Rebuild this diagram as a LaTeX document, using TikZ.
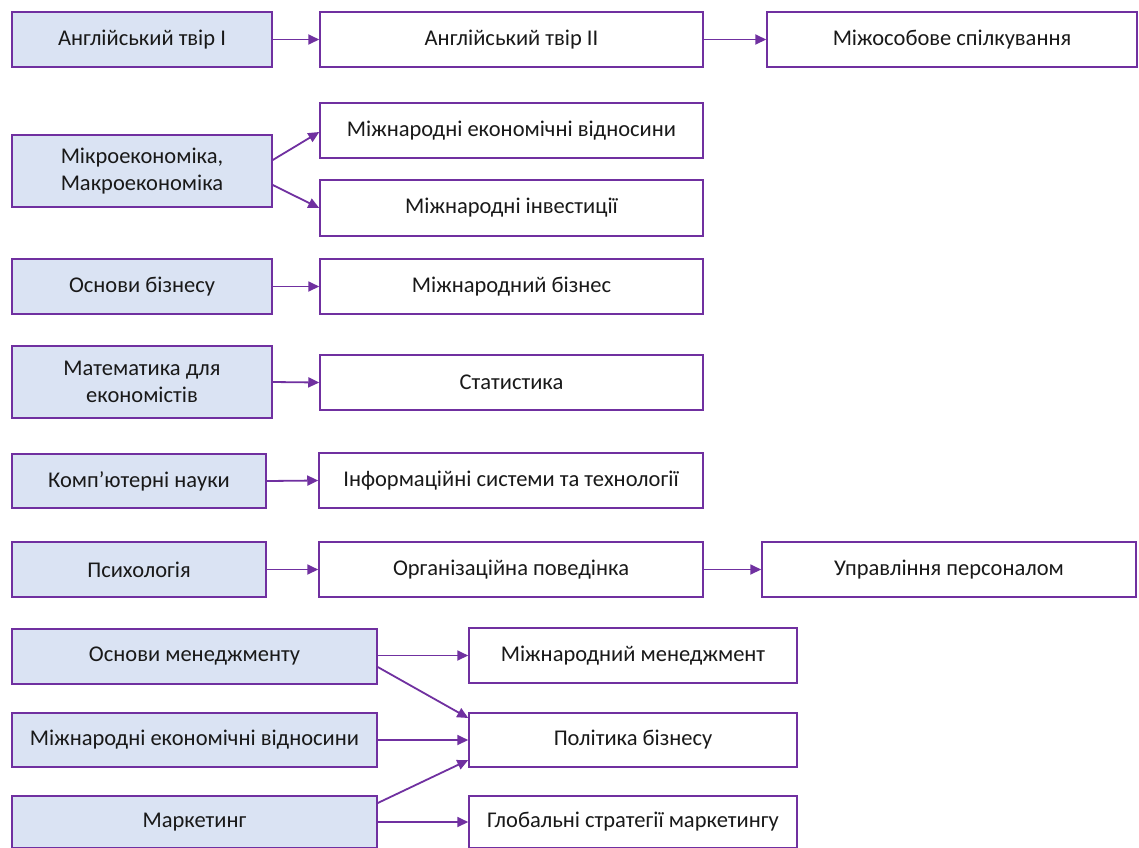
\documentclass[tikz,border=0pt]{standalone}
\usepackage{fontspec}
\setmainfont{Carlito}
\usetikzlibrary{arrows.meta}
\definecolor{pborder}{HTML}{7030A0}
\definecolor{lfill}{HTML}{DAE3F3}
\begin{document}
\begin{tikzpicture}[x=1pt,y=-1pt,
  base/.style={draw=pborder, line width=1.5pt, rectangle, inner sep=2pt, align=center,
    font=\fontsize{22.5}{27}\selectfont, text=black!90},
  lbox/.style={base, fill=lfill},
  rbox/.style={base, fill=white},
  conn/.style={draw=pborder, line width=1.8pt, -{Triangle[length=11pt,width=10pt]}}]
\useasboundingbox (0,0) rectangle (1139,847);
\fill[white] (0,0) rectangle (1139,847);
% Row 1
\node[lbox, minimum width=260pt, minimum height=55pt] (a1) at (142,39.5) {Англійський твір I};
\node[rbox, minimum width=383pt, minimum height=55pt] (a2) at (511.5,39.5) {Англійський твір II};
\node[rbox, minimum width=370pt, minimum height=55pt] (a3) at (952,39.5) {Міжособове спілкування};
% Row 2
\node[lbox, minimum width=260pt, minimum height=72pt] (b1) at (142,171) {Мікроекономіка,\\Макроекономіка};
\node[rbox, minimum width=383pt, minimum height=55pt] (b2) at (511.5,130.5) {Міжнародні економічні відносини};
\node[rbox, minimum width=383pt, minimum height=56pt] (b3) at (511.5,208) {Міжнародні інвестиції};
% Row 3
\node[lbox, minimum width=260pt, minimum height=55pt] (c1) at (142,286.5) {Основи бізнесу};
\node[rbox, minimum width=383pt, minimum height=55pt] (c2) at (511.5,286.5) {Міжнародний бізнес};
% Row 4
\node[lbox, minimum width=260pt, minimum height=72pt] (d1) at (142,382) {Математика для\\економістів};
\node[rbox, minimum width=383pt, minimum height=55pt] (d2) at (511.5,382.5) {Статистика};
% Row 5
\node[lbox, minimum width=254pt, minimum height=54pt] (e1) at (139,481) {Комп’ютерні науки};
\node[rbox, minimum width=384pt, minimum height=55pt] (e2) at (511,480.5) {Інформаційні системи та технології};
% Row 6
\node[lbox, minimum width=254pt, minimum height=55pt] (f1) at (139,569.5) {Психологія};
\node[rbox, minimum width=384pt, minimum height=55pt] (f2) at (511,569.5) {Організаційна поведінка};
\node[rbox, minimum width=374pt, minimum height=55pt] (f3) at (949,569.5) {Управління персоналом};
% Rows 7-9
\node[lbox, minimum width=365pt, minimum height=55pt] (g1) at (194.5,656.5) {Основи менеджменту};
\node[rbox, minimum width=328pt, minimum height=55pt] (g2) at (633,655.5) {Міжнародний менеджмент};
\node[lbox, minimum width=365pt, minimum height=54pt] (h1) at (194.5,740) {Міжнародні економічні відносини};
\node[rbox, minimum width=328pt, minimum height=54pt] (h2) at (633,740) {Політика бізнесу};
\node[lbox, minimum width=365pt, minimum height=52pt] (i1) at (194.5,822) {Маркетинг};
\node[rbox, minimum width=328pt, minimum height=52pt] (i2) at (633,822) {Глобальні стратегії маркетингу};
% Connectors
\draw[conn] (a1) -- (a2);
\draw[conn] (a2) -- (a3);
\draw[conn] ([yshift=11pt]b1.east) -- ([yshift=-1.5pt]b2.west);
\draw[conn] ([yshift=-14pt]b1.east) -- (b3.west);
\draw[conn] (c1.east) -- (c2.west);
\draw[conn] (d1.east) -- (d2.west);
\draw[conn] (e1.east) -- (e2.west);
\draw[conn] (f1.east) -- (f2.west);
\draw[conn] (f2.east) -- (f3.west);
\draw[conn] (g1.east |- g2.west) -- (g2.west);
\draw[conn] ([yshift=-10.5pt]g1.east) -- ([yshift=22pt]h2.west);
\draw[conn] (h1.east) -- (h2.west);
\draw[conn] ([yshift=19pt]i1.east) -- ([yshift=-20pt]h2.west);
\draw[conn] (i1.east) -- (i2.west);
\end{tikzpicture}
\end{document}
